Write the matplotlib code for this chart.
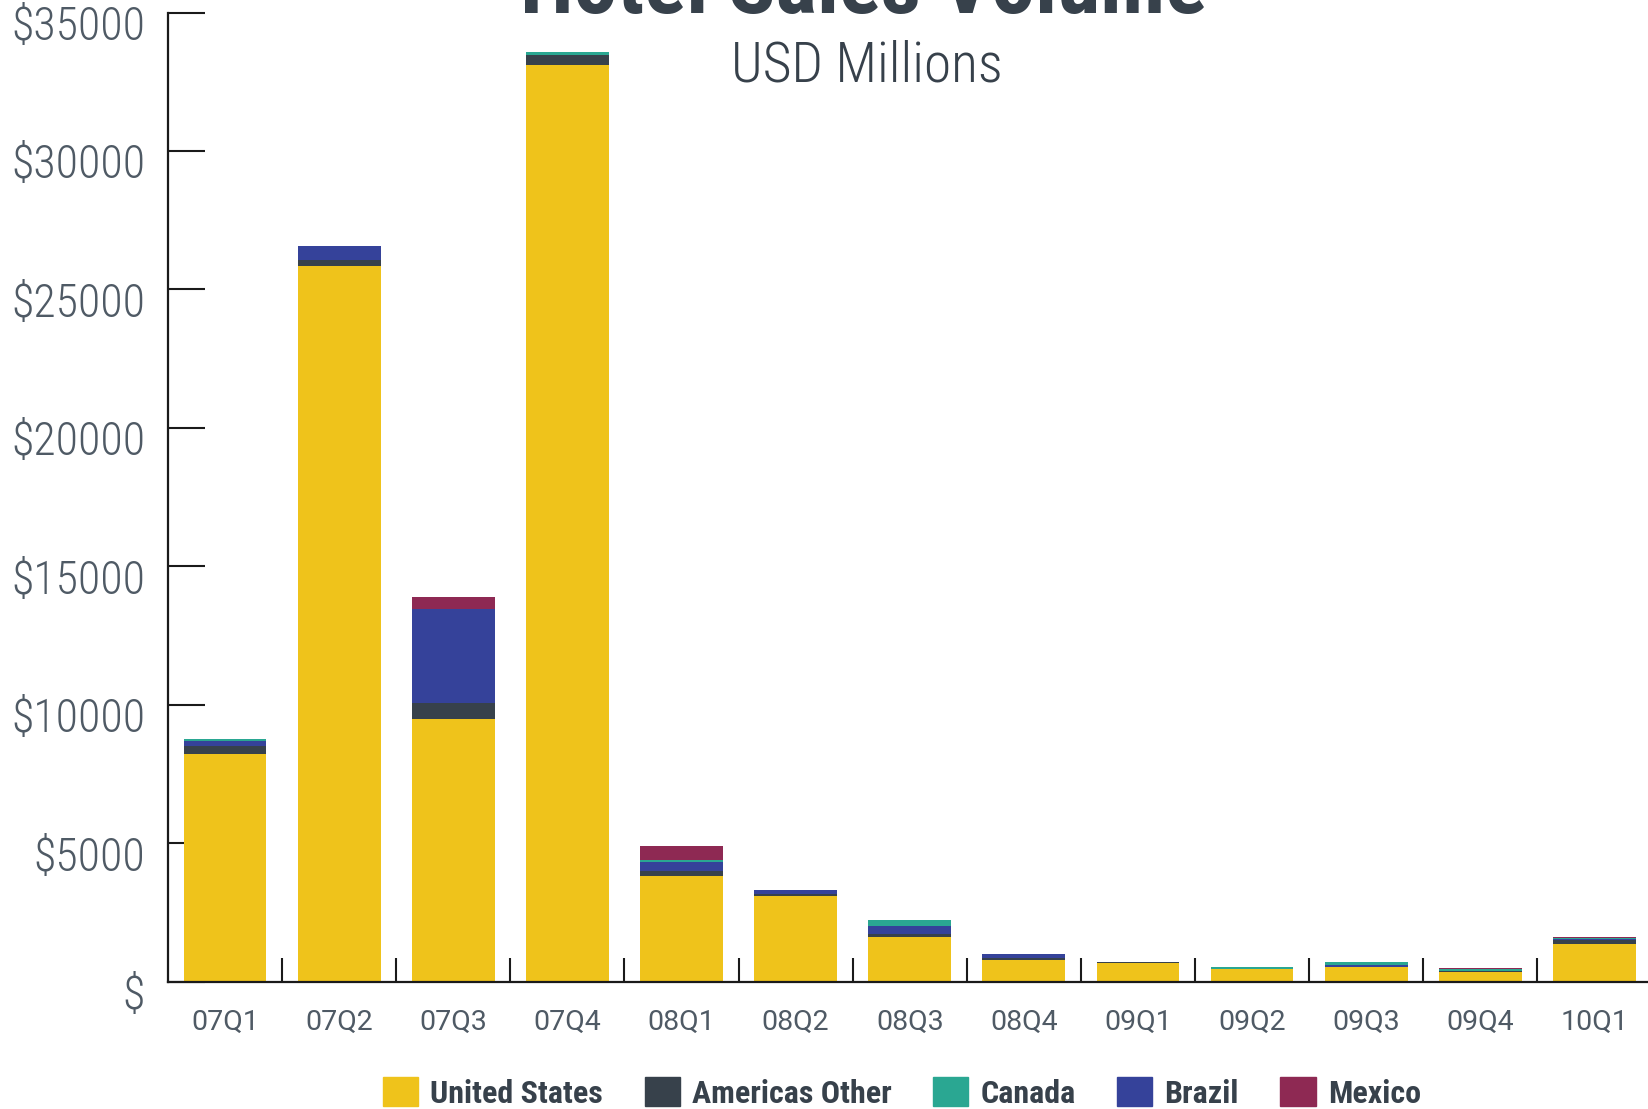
import numpy as np
import matplotlib
matplotlib.use("Agg")
import matplotlib.pyplot as plt
from matplotlib.patches import Patch
import matplotlib.transforms as mtransforms

# values, USD millions
quarters = ['07Q1', '07Q2', '07Q3', '07Q4', '08Q1', '08Q2', '08Q3',
            '08Q4', '09Q1', '09Q2', '09Q3', '09Q4', '10Q1']
united_states = [8220, 25840, 9480, 33090, 3820, 3100, 1615, 785, 680, 460, 540, 360, 1370]
americas_other = [290, 220, 580, 360, 180, 72, 108, 72, 15, 0, 0, 36, 144]
brazil = [180, 500, 3390, 20, 325, 144, 289, 144, 0, 0, 72, 0, 30]
canada = [70, 0, 0, 100, 72, 0, 217, 0, 0, 75, 108, 72, 20]
mexico = [0, 0, 430, 0, 505, 0, 0, 0, 0, 0, 0, 36, 60]
y_ticks = [0, 5000, 10000, 15000, 20000, 25000, 30000, 35000]

c_us = '#EFC31B'
c_ao = '#37414B'
c_ca = '#2AA792'
c_br = '#35429A'
c_mx = '#8E2953'
txt_dark = '#37414B'
txt_gray = '#4F5A65'

narrow = ['Roboto Condensed', 'Roboto', 'DejaVu Sans']
regular = ['Roboto', 'DejaVu Sans']

fig = plt.figure(figsize=(16.48, 11.09), dpi=100)
ax = fig.add_axes([168 / 1648, 0.1148, 1 - 168 / 1648, 0.8739])

x = np.arange(len(quarters))
w = 0.726
bottom = np.zeros(len(quarters))
for vals, col in [(united_states, c_us), (americas_other, c_ao), (brazil, c_br),
                  (canada, c_ca), (mexico, c_mx)]:
    ax.bar(x, vals, w, bottom=bottom, color=col, linewidth=0, zorder=2)
    bottom += np.array(vals)

ax.set_xlim(-0.5, 12.47)
ax.set_ylim(0, 35000)

for s in ['top', 'right']:
    ax.spines[s].set_visible(False)
for s in ['left', 'bottom']:
    ax.spines[s].set_color('#1a1a1a')
    ax.spines[s].set_linewidth(1.6)
    ax.spines[s].set_zorder(3)

ax.set_yticks(y_ticks)
ax.set_yticklabels(['$' if v == 0 else '$%d' % v for v in y_ticks],
                   family=narrow, fontweight='light', fontsize=33, color=txt_gray)
ax.tick_params(axis='y', direction='in', length=26.6, width=1.5, color='#1a1a1a', pad=16.5)
offset = mtransforms.ScaledTranslation(0, -10 / 100, fig.dpi_scale_trans)
for lab in ax.get_yticklabels():
    lab.set_transform(lab.get_transform() + offset)

ax.set_xticks(x)
ax.set_xticklabels(quarters, family=regular, fontweight='normal', fontsize=20.5, color=txt_gray)
ax.set_xticks(x[:-1] + 0.5, minor=True)
ax.tick_params(axis='x', which='major', length=0, pad=19.5)
ax.tick_params(axis='x', which='minor', direction='in', length=17, width=1.5, color='#1a1a1a')

fig.text(864 / 1648, 1 - 13 / 1109, 'Hotel Sales Volume', ha='center', va='baseline',
         family=narrow, fontweight='bold', fontsize=63, color=txt_dark)
fig.text(867 / 1648, 1 - 66 / 1109, 'USD Millions', ha='center', va='center',
         family=narrow, fontweight='light', fontsize=40, color=txt_dark)

handles = [Patch(color=c_us, label='United States'),
           Patch(color=c_ao, label='Americas Other'),
           Patch(color=c_ca, label='Canada'),
           Patch(color=c_br, label='Brazil'),
           Patch(color=c_mx, label='Mexico')]
fig.legend(handles=handles, loc='center', bbox_to_anchor=(902 / 1648, 1 - 1093 / 1109),
           ncol=5, frameon=False, handlelength=1.1, handleheight=1.03,
           handletextpad=0.38, columnspacing=1.3,
           prop={'family': narrow, 'weight': 'bold', 'size': 23},
           labelcolor=txt_dark)

fig.savefig('out.png', dpi=100)
